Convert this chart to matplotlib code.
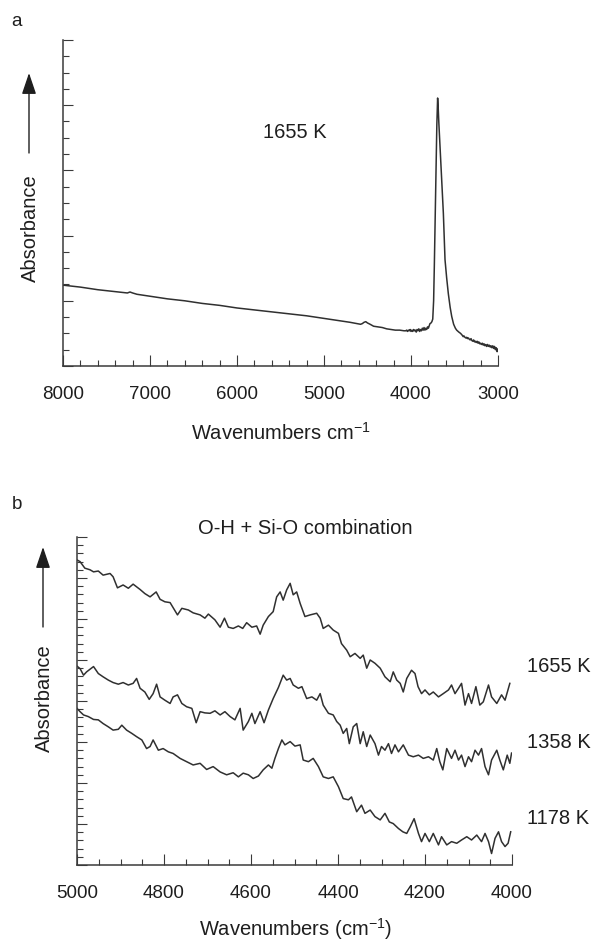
import matplotlib
matplotlib.use("Agg")
import matplotlib.pyplot as plt
from matplotlib.ticker import MultipleLocator

plt.rcParams['font.family'] = ['Liberation Sans', 'DejaVu Sans']
plt.rcParams['mathtext.fontset'] = 'custom'
plt.rcParams['mathtext.rm'] = 'Liberation Sans'
plt.rcParams['mathtext.it'] = 'Liberation Sans:italic'
plt.rcParams['mathtext.default'] = 'regular'

# ---------------- Panel a: full spectrum at 1655 K ----------------
wn_a = [8000, 7800, 7600, 7400, 7300, 7260, 7230, 7200, 7150, 7000, 6800, 6600, 6400, 6200,
        6000, 5800, 5600, 5400, 5200, 5000, 4800, 4700, 4620, 4580, 4560, 4540,
        4520, 4500, 4470, 4430, 4380, 4330, 4280, 4230, 4180, 4130, 4080,
        4060, 4050, 4040, 4030, 4020, 4010, 4000, 3990, 3980, 3970, 3960, 3950,
        3940, 3930, 3920, 3910, 3900, 3890, 3880, 3870, 3860, 3850, 3840, 3830,
        3820, 3810, 3800, 3790, 3782, 3770, 3760, 3750, 3740, 3732, 3722, 3713,
        3703, 3694, 3688, 3680, 3663, 3645, 3628, 3609, 3590, 3571, 3550, 3532,
        3510, 3490, 3475, 3450, 3430, 3410, 3400, 3390, 3380, 3370, 3360, 3350,
        3340, 3330, 3320, 3310, 3300, 3290, 3280, 3270, 3260, 3250, 3240, 3230,
        3220, 3210, 3200, 3190, 3180, 3170, 3160, 3150, 3140, 3130, 3120, 3110,
        3100, 3090, 3080, 3070, 3060, 3050, 3040, 3030, 3020, 3010, 3000]
abs_a = [1.24, 1.21, 1.17, 1.14, 1.125, 1.12, 1.135, 1.12, 1.10, 1.07, 1.03, 1.00, 0.96, 0.93,
         0.89, 0.86, 0.83, 0.80, 0.77, 0.73, 0.69, 0.67, 0.65, 0.64, 0.65, 0.67,
         0.68, 0.66, 0.64, 0.61, 0.60, 0.59, 0.57, 0.56, 0.55, 0.55, 0.54,
         0.54, 0.55, 0.53, 0.55, 0.54, 0.56, 0.53, 0.55, 0.53, 0.56, 0.54, 0.55,
         0.52, 0.56, 0.54, 0.57, 0.53, 0.56, 0.54, 0.58, 0.55, 0.59, 0.55, 0.58,
         0.56, 0.60, 0.58, 0.62, 0.65, 0.66, 0.68, 0.72, 1.00, 1.52, 2.30, 3.06,
         3.70, 4.11, 3.98, 3.73, 3.28, 2.80, 2.34, 1.63, 1.35, 1.11, 0.90, 0.76,
         0.64, 0.58, 0.55, 0.52, 0.50, 0.47, 0.45, 0.46, 0.44, 0.43, 0.44, 0.42,
         0.43, 0.41, 0.40, 0.42, 0.39, 0.38, 0.40, 0.37, 0.38, 0.36, 0.38, 0.35,
         0.37, 0.34, 0.35, 0.33, 0.35, 0.32, 0.34, 0.31, 0.33, 0.30, 0.33, 0.30,
         0.32, 0.29, 0.31, 0.28, 0.31, 0.27, 0.30, 0.25, 0.28, 0.22, 0.26]

# ---------------- Panel b: O-H + Si-O combination band ----------------
wn_1655 = [5000, 4993, 4982, 4970, 4962, 4951, 4940, 4924, 4917, 4907, 4894, 4882,
           4871, 4855, 4844, 4832, 4818, 4809, 4798, 4786, 4769, 4759, 4744, 4733,
           4717, 4706, 4698, 4683, 4671, 4661, 4652, 4641, 4629, 4619, 4610, 4598,
           4587, 4579, 4572, 4560, 4549, 4541, 4533, 4526, 4518, 4510, 4503, 4495,
           4487, 4476, 4464, 4449, 4441, 4434, 4422, 4411, 4399, 4392, 4380, 4372,
           4361, 4349, 4342, 4334, 4326, 4315, 4303, 4292, 4280, 4273, 4265, 4257,
           4250, 4242, 4231, 4223, 4216, 4208, 4200, 4190, 4181, 4169, 4158, 4146,
           4139, 4131, 4123, 4116, 4108, 4100, 4093, 4083, 4074, 4066, 4054, 4047,
           4035, 4024, 4016, 4005]
abs_1655 = [7.44, 7.40, 7.24, 7.20, 7.15, 7.17, 7.07, 7.11, 7.03, 6.76, 6.83, 6.75,
            6.85, 6.72, 6.62, 6.54, 6.66, 6.48, 6.42, 6.40, 6.10, 6.26, 6.22, 6.15,
            6.10, 6.02, 6.12, 5.98, 5.80, 6.02, 5.80, 5.77, 5.83, 5.77, 5.91, 5.80,
            5.83, 5.63, 5.85, 6.06, 6.18, 6.54, 6.66, 6.46, 6.71, 6.87, 6.59, 6.66,
            6.38, 6.06, 6.10, 6.14, 6.02, 5.77, 5.85, 5.73, 5.65, 5.40, 5.24, 5.08,
            5.16, 5.04, 5.12, 4.80, 5.00, 4.92, 4.80, 4.59, 4.47, 4.71, 4.51, 4.43,
            4.22, 4.55, 4.75, 4.67, 4.35, 4.18, 4.27, 4.15, 4.22, 4.10, 4.18, 4.27,
            4.39, 4.18, 4.31, 4.43, 3.90, 4.18, 3.94, 4.35, 3.90, 3.98, 4.39, 4.10,
            3.94, 4.15, 4.02, 4.43]

wn_1358 = [5000, 4993, 4985, 4978, 4962, 4951, 4940, 4928, 4917, 4905, 4894, 4882,
           4871, 4863, 4855, 4844, 4834, 4825, 4817, 4809, 4798, 4786, 4779, 4769,
           4759, 4748, 4736, 4726, 4717, 4706, 4694, 4683, 4671, 4660, 4648, 4637,
           4625, 4618, 4606, 4598, 4591, 4579, 4570, 4560, 4549, 4537, 4526, 4518,
           4510, 4503, 4491, 4483, 4472, 4460, 4449, 4441, 4434, 4422, 4411, 4403,
           4395, 4388, 4380, 4374, 4365, 4357, 4349, 4342, 4334, 4326, 4315, 4307,
           4300, 4292, 4284, 4277, 4269, 4261, 4250, 4238, 4227, 4215, 4204, 4192,
           4181, 4173, 4166, 4159, 4150, 4139, 4131, 4123, 4116, 4108, 4100, 4093,
           4085, 4077, 4070, 4062, 4054, 4047, 4035, 4028, 4020, 4011, 4005, 4001]
abs_1358 = [4.85, 4.79, 4.63, 4.71, 4.84, 4.67, 4.59, 4.51, 4.45, 4.41, 4.45, 4.39,
            4.43, 4.55, 4.31, 4.22, 4.04, 4.18, 4.41, 4.10, 4.02, 3.94, 4.10, 4.15,
            3.94, 3.86, 3.82, 3.47, 3.74, 3.71, 3.70, 3.76, 3.66, 3.74, 3.62, 3.54,
            3.82, 3.29, 3.50, 3.70, 3.45, 3.74, 3.47, 3.78, 4.06, 4.33, 4.63, 4.51,
            4.55, 4.39, 4.31, 4.35, 4.06, 4.10, 4.02, 4.18, 3.90, 3.70, 3.66, 3.50,
            3.41, 3.21, 3.33, 2.96, 3.37, 3.45, 2.96, 3.25, 2.89, 3.17, 2.96, 2.68,
            2.89, 2.80, 2.96, 2.72, 2.93, 2.76, 2.93, 2.68, 2.64, 2.68, 2.60, 2.64,
            2.56, 2.84, 2.52, 2.32, 2.84, 2.60, 2.80, 2.56, 2.68, 2.40, 2.64, 2.52,
            2.80, 2.68, 2.84, 2.40, 2.20, 2.56, 2.80, 2.56, 2.32, 2.68, 2.48, 2.73]

wn_1178 = [5000, 4993, 4985, 4974, 4962, 4951, 4940, 4928, 4917, 4905, 4897, 4886,
           4874, 4863, 4851, 4840, 4832, 4825, 4813, 4802, 4790, 4779, 4763, 4748,
           4733, 4717, 4702, 4687, 4671, 4656, 4641, 4629, 4618, 4606, 4595, 4583,
           4572, 4560, 4552, 4545, 4537, 4529, 4522, 4510, 4499, 4487, 4480, 4468,
           4457, 4445, 4434, 4422, 4411, 4399, 4388, 4376, 4369, 4357, 4346, 4338,
           4326, 4315, 4303, 4292, 4282, 4273, 4261, 4251, 4242, 4234, 4225, 4215,
           4208, 4200, 4190, 4181, 4169, 4162, 4150, 4139, 4127, 4116, 4104, 4093,
           4081, 4070, 4062, 4054, 4047, 4039, 4031, 4024, 4016, 4009, 4003]
abs_1178 = [3.82, 3.74, 3.66, 3.62, 3.55, 3.54, 3.45, 3.37, 3.29, 3.31, 3.41, 3.29,
            3.21, 3.13, 3.05, 2.84, 2.89, 3.05, 2.80, 2.84, 2.76, 2.72, 2.60, 2.52,
            2.44, 2.48, 2.33, 2.40, 2.27, 2.20, 2.25, 2.15, 2.24, 2.20, 2.11, 2.17,
            2.32, 2.44, 2.36, 2.60, 2.84, 3.05, 2.93, 3.01, 2.90, 2.93, 2.56, 2.52,
            2.60, 2.40, 2.15, 2.11, 2.15, 1.91, 1.62, 1.59, 1.66, 1.30, 1.46, 1.26,
            1.34, 1.18, 1.10, 1.26, 1.05, 1.01, 0.89, 0.81, 0.77, 0.93, 1.13, 0.77,
            0.57, 0.77, 0.57, 0.77, 0.49, 0.69, 0.49, 0.57, 0.53, 0.61, 0.69, 0.61,
            0.73, 0.57, 0.77, 0.57, 0.28, 0.65, 0.81, 0.57, 0.45, 0.53, 0.81]

temps_b = ["1655 K", "1358 K", "1178 K"]
label_a = "1655 K"
band_title = "O-H + Si-O combination"

# ---------------- Figure ----------------
W, H = 596, 944
fig = plt.figure(figsize=(W / 100, H / 100), dpi=100)
fig.patch.set_facecolor('white')

LINE = '#303030'
TXT = '#1e1e1e'
AX = '#3a3a3a'


def px_axes(l, t, r, b):
    return [l / W, 1 - b / H, (r - l) / W, (b - t) / H]


def style(ax, xmaj, xmin, ymaj, ymin):
    for s in ['top', 'right']:
        ax.spines[s].set_visible(False)
    for s in ['left', 'bottom']:
        ax.spines[s].set_color(AX)
        ax.spines[s].set_linewidth(1.1)
    ax.xaxis.set_major_locator(MultipleLocator(xmaj))
    ax.xaxis.set_minor_locator(MultipleLocator(xmin))
    ax.yaxis.set_major_locator(MultipleLocator(ymaj))
    ax.yaxis.set_minor_locator(MultipleLocator(ymin))
    ax.tick_params(axis='both', which='both', direction='in', colors=AX,
                   width=0.8, labelcolor=TXT)
    ax.tick_params(axis='x', which='major', length=8, pad=14.5, labelsize=13.5)
    ax.tick_params(axis='x', which='minor', length=4.5)
    ax.tick_params(axis='y', which='major', length=7.5, labelleft=False)
    ax.tick_params(axis='y', which='minor', length=4.5)


# Panel a
ax1 = fig.add_axes(px_axes(63, 40, 498, 366))
ax1.plot(wn_a, abs_a, color=LINE, lw=1.1)
ax1.set_xlim(8000, 3000)
ax1.set_ylim(0, 5)
style(ax1, 1000, 200, 1, 0.25)
ax1.text(0.533, 0.715, label_a, transform=ax1.transAxes, ha='center',
         va='center', fontsize=14.5, color=TXT)

# Panel b
ax2 = fig.add_axes(px_axes(77, 537, 512, 865))
ax2.plot(wn_1655, abs_1655, color=LINE, lw=1.1)
ax2.plot(wn_1358, abs_1358, color=LINE, lw=1.1)
ax2.plot(wn_1178, abs_1178, color=LINE, lw=1.1)
ax2.set_xlim(5000, 4000)
ax2.set_ylim(0, 8)
style(ax2, 200, 50, 1, 0.2)
for lab, yy in zip(temps_b, [0.604, 0.375, 0.143]):
    ax2.text(1.034, yy, lab, transform=ax2.transAxes, ha='left', va='center',
             fontsize=14.5, color=TXT, clip_on=False)
ax2.text(0.524, 1.027, band_title, transform=ax2.transAxes, ha='center',
         va='center', fontsize=14.5, color=TXT)

# Axis titles, panel letters, Absorbance arrows (figure pixels)
def ftext(x, y, s, **kw):
    fig.text(x / W, 1 - y / H, s, color=TXT, **kw)


ftext(17, 22, 'a', fontsize=13.5, ha='center', va='center')
ftext(17, 505, 'b', fontsize=13.5, ha='center', va='center')
ftext(281, 433, 'Wavenumbers cm$^{-1}$', fontsize=14.5, ha='center', va='center')
ftext(296, 929, 'Wavenumbers (cm$^{-1}$)', fontsize=14.5, ha='center', va='center')
ftext(30, 228, 'Absorbance', fontsize=14.5, ha='center', va='center', rotation=90)
ftext(44, 698, 'Absorbance', fontsize=14.5, ha='center', va='center', rotation=90)


def arrow(x, y0, y1):
    fig.add_artist(matplotlib.patches.FancyArrowPatch(
        (x / W, 1 - y0 / H), (x / W, 1 - y1 / H), transform=fig.transFigure,
        arrowstyle='-|>,head_length=0.65,head_width=0.22', mutation_scale=20,
        lw=1.0, color=TXT, shrinkA=0, shrinkB=0))


arrow(29, 153, 73)
arrow(43, 627, 547)

fig.savefig('out.png', dpi=100, facecolor='white')
